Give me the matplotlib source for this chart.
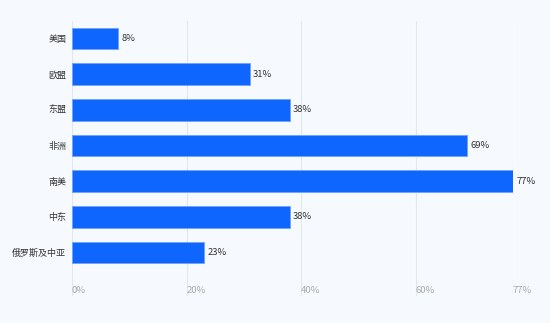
import matplotlib.pyplot as plt

plt.rcParams['font.family'] = ['Noto Sans CJK SC', 'DejaVu Sans']

# 数据
regions = ["美国", "欧盟", "东盟", "非洲", "南美", "中东", "俄罗斯及中亚"]
shares = [8, 31, 38, 69, 77, 38, 23]
xticks = [0, 20, 40, 60, 77]
xtick_labels = ["0%", "20%", "40%", "60%", "77%"]

bg = '#F6F9FE'
bar_color = '#0F66FF'

fig = plt.figure(figsize=(5.5, 3.23), dpi=100, facecolor=bg)
ax = fig.add_axes([0.1309, 1 - 296 / 323, 0.9327 - 0.1309, (296 - 20.7) / 323])
ax.set_facecolor(bg)

y = range(len(regions))
bars = ax.barh(y, shares, height=0.6, color=bar_color, edgecolor='#6FA3FF', linewidth=0.6, zorder=3)

for b, v in zip(bars, shares):
    ax.text(b.get_width() + 0.6, b.get_y() + b.get_height() / 2, f"{v}%",
            va='center', ha='left', fontsize=6.8, color='#333333')

ax.set_xlim(0, 77)
ax.set_ylim(7.22, -0.5)
ax.set_yticks(list(y))
ax.set_yticklabels(regions, fontsize=6.5, color='#333333')
ax.set_xticks(xticks)
ax.set_xticklabels(xtick_labels, fontsize=6.8, color='#AAAAAA')
for lbl in ax.get_xticklabels():
    lbl.set_horizontalalignment('left')

ax.tick_params(axis='x', length=0, pad=-7.5)
ax.tick_params(axis='y', length=0, pad=4.2)
ax.grid(axis='x', color='#E3E7EE', linewidth=0.8, zorder=0)
for s in ax.spines.values():
    s.set_visible(False)

fig.savefig('out.png', dpi=100, facecolor=bg)
